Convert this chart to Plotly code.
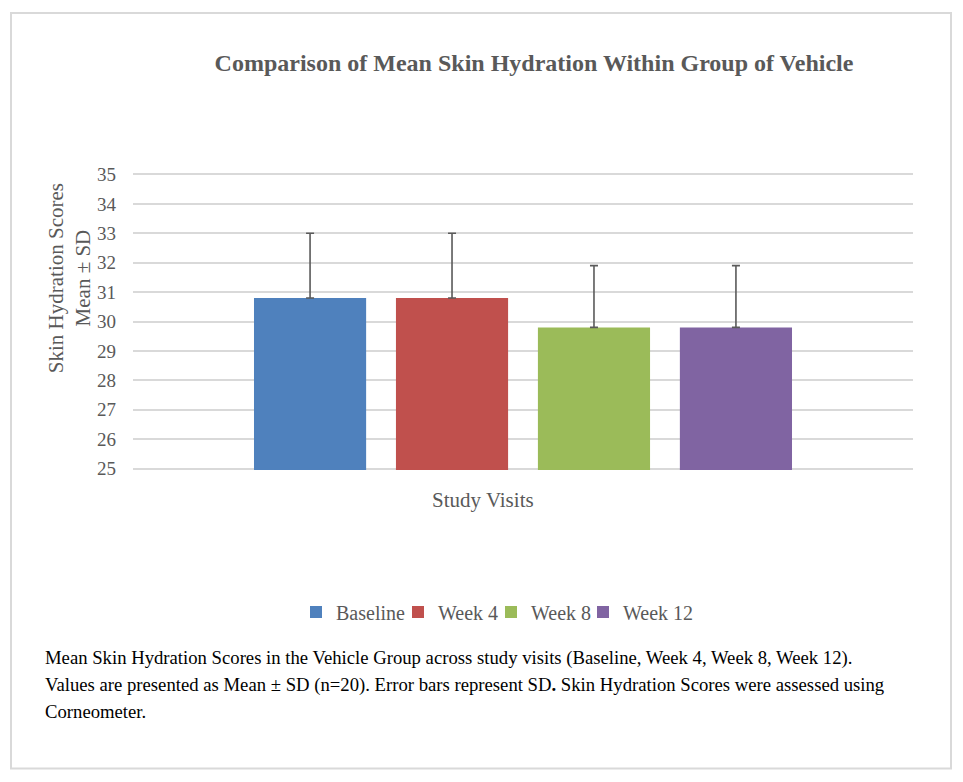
import plotly.graph_objects as go

# data
visits = ["Baseline", "Week 4", "Week 8", "Week 12"]
mean_scores = [30.8, 30.8, 29.8, 29.8]
sd_scores = [2.2, 2.2, 2.1, 2.1]
colors = ["#4F81BD", "#C0504D", "#9BBB59", "#8064A2"]
y_ticks = list(range(25, 36))

caption_lines = [
    "Mean Skin Hydration Scores in the Vehicle Group across study visits (Baseline, Week 4, Week 8, Week 12).",
    "Values are presented as Mean ± SD (n=20). Error bars represent SD<b>.</b> Skin Hydration Scores were assessed using",
    "Corneometer.",
]

# the page body adds an 8px margin, so the figure is shrunk by that much
OFF = 8
W, H = 963 - OFF, 782 - OFF
# plot area in reference pixels (padded 1.5px so the 25 and 35 gridlines are kept)
L, R, T, B = 133, 913, 172.5, 470.5


def px_x(px):
    return (px - L) / (R - L)


def px_y(py):
    return (B - py) / (B - T)


serif = "Liberation Serif"
grey = "#595959"

# left edge (reference px) of each legend swatch; one small legend per entry
legend_swatch_px = [313, 415, 508, 600]

fig = go.Figure()

legend_layout = {}
for i, (name, m, sd, c) in enumerate(zip(visits, mean_scores, sd_scores, colors)):
    leg_id = "legend" if i == 0 else f"legend{i + 1}"
    fig.add_trace(go.Bar(
        x=[""],
        y=[m],
        name=name,
        legend=leg_id,
        showlegend=True,
        marker=dict(color=c, line=dict(width=0)),
        error_y=dict(type="data", symmetric=False, array=[sd], arrayminus=[0],
                     color="#5a5a5a", thickness=1.6, width=4),
    ))
    legend_layout[leg_id] = dict(
        orientation="h", x=px_x(legend_swatch_px[i] - 17), xanchor="left",
        y=px_y(613), yanchor="middle",
        font=dict(family=serif, size=20, color=grey),
        itemwidth=30, bgcolor="rgba(0,0,0,0)",
    )

annotations = [
    dict(text="Study Visits", x=px_x(483), y=px_y(501), xref="paper", yref="paper",
         xanchor="center", yanchor="middle", showarrow=False,
         font=dict(family=serif, size=21, color=grey)),
    dict(text="Skin Hydration Scores<br>Mean ± SD", x=px_x(69), y=px_y(278),
         xref="paper", yref="paper", xanchor="center", yanchor="middle",
         textangle=-90, showarrow=False,
         font=dict(family=serif, size=21, color=grey)),
]
for i, line in enumerate(caption_lines):
    annotations.append(dict(
        text=line, x=px_x(43), y=px_y(659 + 27 * i), xref="paper", yref="paper",
        xanchor="left", yanchor="middle", showarrow=False,
        font=dict(family=serif, size=18.7, color="#000000"),
    ))

fig.update_layout(
    width=W,
    height=H,
    margin=dict(l=L - OFF, r=W - (R - OFF), t=T - OFF, b=H - (B - OFF), pad=0),
    paper_bgcolor="#ffffff",
    plot_bgcolor="#ffffff",
    showlegend=True,
    barmode="group",
    bargap=0.272,
    bargroupgap=0.21,
    title=dict(text="<b>Comparison of Mean Skin Hydration Within Group of Vehicle</b>",
               x=(534 - OFF) / W, xanchor="center", y=1 - (63 - OFF) / H, yanchor="middle",
               font=dict(family=serif, size=24, color=grey)),
    xaxis=dict(showticklabels=False, showgrid=False, zeroline=False, showline=False, ticks=""),
    yaxis=dict(range=[24.95, 35.05], tickvals=y_ticks, showgrid=True, gridcolor="#d9d9d9",
               gridwidth=1.5, zeroline=False, showline=False, ticks="",
               ticklabelstandoff=16,
               tickfont=dict(family=serif, size=19, color=grey)),
    annotations=annotations,
    shapes=[dict(type="rect", xref="paper", yref="paper",
                 x0=px_x(11), x1=px_x(951), y0=px_y(770), y1=px_y(12),
                 line=dict(color="#d9d9d9", width=2), layer="below")],
    **legend_layout,
)

fig.write_html("out.html")
